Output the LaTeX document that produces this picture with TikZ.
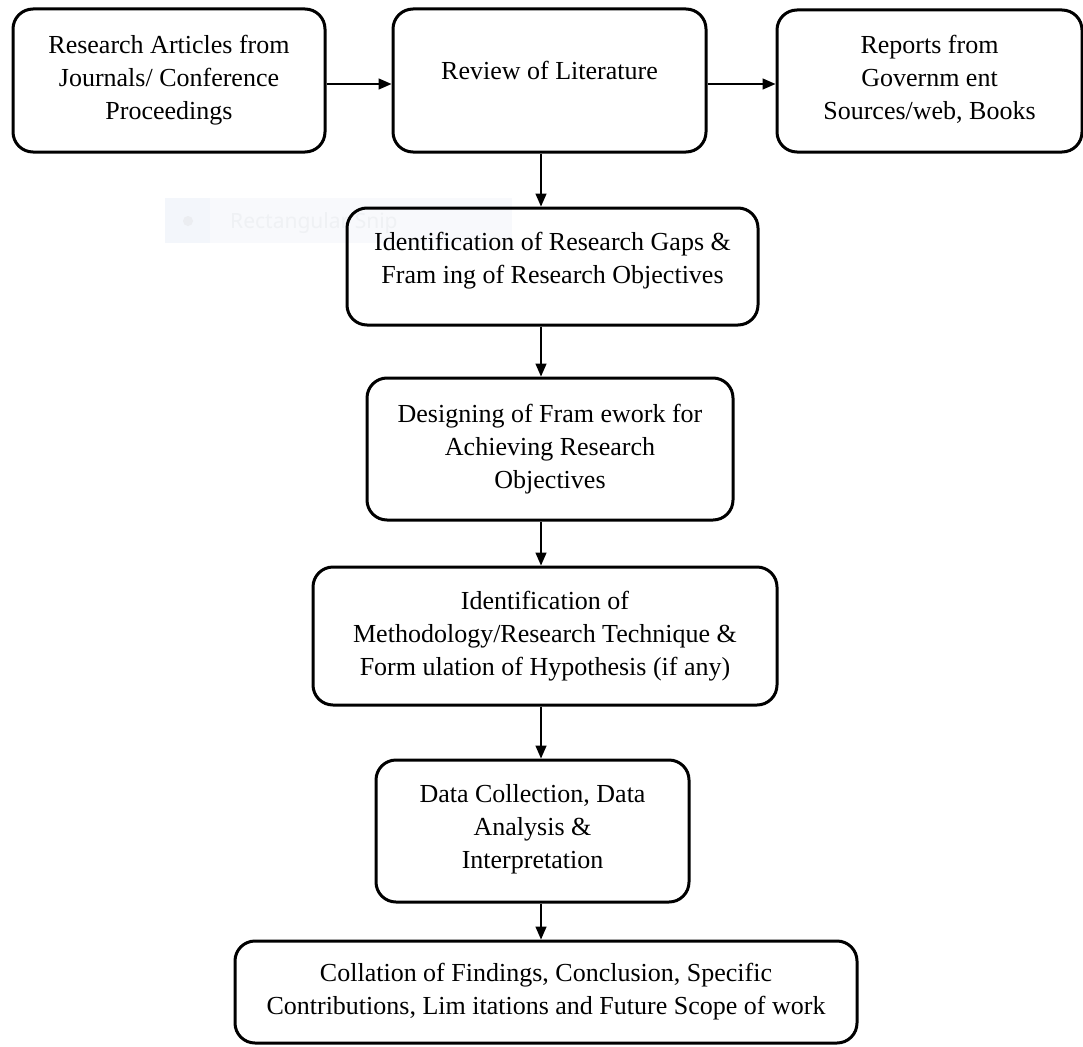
\documentclass[tikz,border=0pt]{standalone}
\usepackage{fontspec}
\setmainfont{Liberation Serif}
\newfontfamily\snipfont{Noto Sans}
\usetikzlibrary{arrows.meta}
\definecolor{snipbg}{HTML}{F8F9FC}
\definecolor{snipicon}{HTML}{F3F6FB}
\definecolor{snipdot}{HTML}{EBEDF1}
\definecolor{sniptext}{HTML}{EFF1F4}
\begin{document}
\begin{tikzpicture}[x=1pt,y=-1pt,
  stepbox/.style={draw, line width=3pt, rounded corners=20pt, inner sep=0pt},
  boxtext/.style={align=center, inner sep=0pt, font=\fontsize{26}{33}\selectfont},
  flow/.style={line width=1.5pt, -{Triangle[length=13pt,width=11pt]}}]
\useasboundingbox (0,0) rectangle (1083,1046);

% faint screen-capture tooltip lying under the second row
\fill[snipbg] (165,198) rectangle (512,243);
\fill[snipicon] (165,198) rectangle (210,243);
\fill[snipdot] (188,221) circle (5);
\node[anchor=base west, inner sep=0pt, text=sniptext,
      font=\snipfont\fontsize{21}{25}\selectfont] (snip) at (230,228) {Rectangular Snip};

% boxes
\node[stepbox, minimum width=312pt, minimum height=143pt] (b1) at (169,80.5) {};
\node[stepbox, minimum width=313pt, minimum height=143pt] (b2) at (549.5,80.5) {};
\node[stepbox, minimum width=305pt, minimum height=142pt] (b3) at (929.5,81) {};
\node[stepbox, minimum width=411pt, minimum height=117pt] (b4) at (552.5,266.5) {};
\node[stepbox, minimum width=366pt, minimum height=142pt] (b5) at (550,449) {};
\node[stepbox, minimum width=464pt, minimum height=138pt] (b6) at (545,636) {};
\node[stepbox, minimum width=313pt, minimum height=142pt] (b7) at (532.5,831) {};
\node[stepbox, minimum width=622pt, minimum height=102pt] (b8) at (546,992) {};

% box texts
\node[boxtext] (t1) at (b1.center) {Research Articles from\\Journals/ Conference\\Proceedings};
\node[boxtext] (t2) at ([yshift=10.5pt]b2.center) {Review of Literature};
\node[boxtext] (t3) at ([yshift=2pt]b3.center) {Reports from\\Governm ent\\Sources/web, Books};
\node[boxtext] (t4) at ([yshift=6pt]b4.center) {Identification of Research Gaps \&\\Fram ing of Research Objectives};
\node[boxtext] (t5) at (b5.center) {Designing of Fram ework for\\Achieving Research\\Objectives};
\node[boxtext] (t6) at (b6.center) {Identification of\\Methodology/Research Technique \&\\Form ulation of Hypothesis (if any)};
\node[boxtext] (t7) at ([yshift=2pt]b7.center) {Data Collection, Data\\Analysis \&\\Interpretation};
\node[boxtext] (t8) at (b8.center) {Collation of Findings, Conclusion, Specific\\Contributions, Lim itations and Future Scope of work};

% connectors
\coordinate (hrow) at (0,84);
\coordinate (vaxis) at (541,0);
\draw[flow] (b1.east |- hrow) -- (b2.west |- hrow);
\draw[flow] (b2.east |- hrow) -- (b3.west |- hrow);
\draw[flow] (b2.south -| vaxis) -- (b4.north -| vaxis);
\draw[flow] (b4.south -| vaxis) -- (b5.north -| vaxis);
\draw[flow] (b5.south -| vaxis) -- (b6.north -| vaxis);
\draw[flow] (b6.south -| vaxis) -- (b7.north -| vaxis);
\draw[flow] (b7.south -| vaxis) -- (b8.north -| vaxis);
\end{tikzpicture}
\end{document}
